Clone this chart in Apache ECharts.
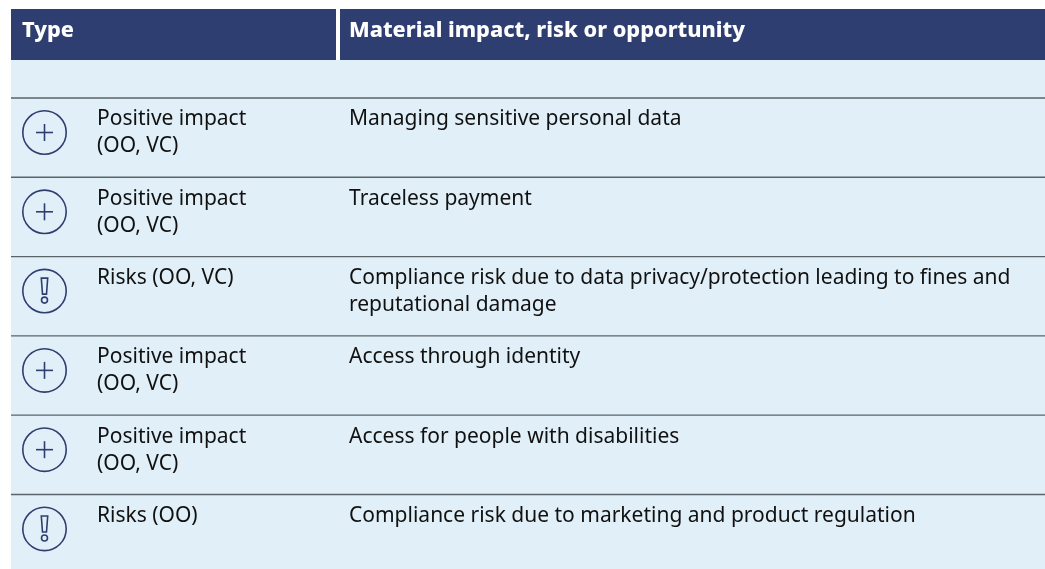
<!DOCTYPE html>
<html>
<head>
<meta charset="utf-8">
<title>Material impacts</title>
<script src="https://cdn.jsdelivr.net/npm/echarts@6/dist/echarts.min.js"></script>
<style>
html,body{margin:0;padding:0;background:#fff;}
#main{width:1045px;height:569px;}
</style>
</head>
<body>
<div id="main"></div>
<script>
var headers=['Type','Material impact, risk or opportunity'];
var rowIcons=['plus','plus','risk','plus','plus','risk'];
var rowTypes=['Positive impact\n(OO, VC)','Positive impact\n(OO, VC)','Risks (OO, VC)','Positive impact\n(OO, VC)','Positive impact\n(OO, VC)','Risks (OO)'];
var rowTexts=[
    'Managing sensitive personal data',
    'Traceless payment',
    'Compliance risk due to data privacy/protection leading to fines and\nreputational damage',
    'Access through identity',
    'Access for people with disabilities',
    'Compliance risk due to marketing and product regulation'
];

var navy='#2f3e70';
var pale='#e1f0f8';
var font='"Noto Sans", sans-serif';

function iconChildren(type,cx,cy){
    var style={fill:'none',stroke:navy,lineWidth:1.6};
    var children=[{type:'circle',shape:{cx:cx,cy:cy,r:21.7},style:style}];
    if(type=='plus'){
        children.push({type:'line',shape:{x1:cx-8.5,y1:cy,x2:cx+8.5,y2:cy},style:style});
        children.push({type:'line',shape:{x1:cx,y1:cy-8.5,x2:cx,y2:cy+8.5},style:style});
    }else{
        children.push({type:'polygon',shape:{points:[[cx-3.2,cy-13],[cx+3.2,cy-13],[cx+2,cy+3],[cx-2,cy+3]]},style:style});
        children.push({type:'circle',shape:{cx:cx,cy:cy+9,r:3},style:style});
    }
    return children;
}

function renderRow(params,api){
    var i=api.value(0);
    var top=api.coord([0,i]);
    var left=top[0];
    var y=top[1];
    var children=[
        {type:'line',shape:{x1:left,y1:y,x2:1045,y2:y},style:{stroke:'#5a6468',lineWidth:1.4}},
        {type:'text',style:{x:97,y:y+8,text:rowTypes[i],font:'21px '+font,lineHeight:27,fill:'#111',textVerticalAlign:'top'}},
        {type:'text',style:{x:349,y:y+8,text:rowTexts[i],font:'21px '+font,lineHeight:27,fill:'#111',textVerticalAlign:'top'}}
    ];
    return {type:'group',children:children.concat(iconChildren(rowIcons[i],44.5,y+34.5))};
}

var rowData=rowTypes.map(function(t,i){return [i];});

var chart=echarts.init(document.getElementById('main'),null,{renderer:'canvas'});
chart.setOption({
    animation:false,
    backgroundColor:'#fff',
    grid:{left:11,right:0,top:98,bottom:0},
    xAxis:{type:'value',min:0,max:1,show:false},
    yAxis:{type:'value',min:0,max:5.94,inverse:true,show:false},
    graphic:[
        {type:'rect',z:0,shape:{x:11,y:60,width:1034,height:509},style:{fill:pale}},
        {type:'rect',z:0,shape:{x:11,y:9,width:325,height:51},style:{fill:navy}},
        {type:'rect',z:0,shape:{x:340,y:9,width:705,height:51},style:{fill:navy}},
        {type:'text',z:1,style:{x:22,y:31,text:headers[0],font:'800 21.7px '+font,fill:'#fff',textVerticalAlign:'middle'}},
        {type:'text',z:1,style:{x:349,y:31,text:headers[1],font:'800 21.7px '+font,fill:'#fff',textVerticalAlign:'middle'}}
    ],
    series:[{
        type:'custom',
        coordinateSystem:'cartesian2d',
        clip:false,
        silent:true,
        encode:{y:0},
        data:rowData,
        renderItem:renderRow
    }]
});
</script>
</body>
</html>
